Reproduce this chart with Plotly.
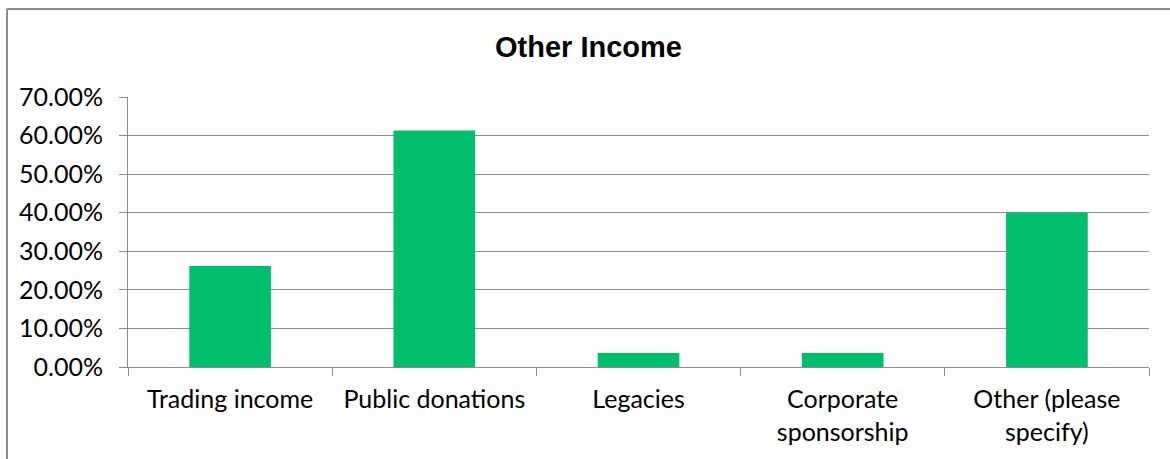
import plotly.graph_objects as go

# Income source categories and share of respondents
categories = ["Trading income", "Public donations", "Legacies",
              "Corporate<br>sponsorship", "Other (please<br>specify)"]
shares = [0.262, 0.613, 0.036, 0.036, 0.400]
y_ticks = [0.0, 0.1, 0.2, 0.3, 0.4, 0.5, 0.6, 0.7]

W, H = 1170, 459
L, R, T, B = 128, 21, 97, 92
pw, ph = W - L - R, H - T - B

GRID = "#8c8c8c"
BAR = "#00BE6E"
LABEL_FONT = dict(family="Lato, Noto Sans, sans-serif", size=25, color="#000000")

fig = go.Figure(
    go.Bar(x=categories, y=shares, marker=dict(color=BAR, line=dict(width=0)))
)

# chart frame: left and top edges of the outer border
def px_to_paper_x(px):
    return (px - L) / pw

def px_to_paper_y(py):
    return (H - B - py) / ph

frame = dict(color="#8f8f8f", width=2)
fig.add_shape(type="line", xref="paper", yref="paper",
              x0=px_to_paper_x(7), x1=px_to_paper_x(7),
              y0=px_to_paper_y(9), y1=px_to_paper_y(H + 5), line=frame)
fig.add_shape(type="line", xref="paper", yref="paper",
              x0=px_to_paper_x(7), x1=px_to_paper_x(W + 5),
              y0=px_to_paper_y(9), y1=px_to_paper_y(9), line=frame)

fig.update_layout(
    width=W, height=H,
    margin=dict(l=L, r=R, t=T, b=B, pad=0),
    paper_bgcolor="white", plot_bgcolor="white",
    bargap=0.6,
    showlegend=False,
    title=dict(text="<b>Other Income</b>", x=0.503, xanchor="center",
               y=1 - 47 / H, yanchor="middle", yref="container",
               font=dict(family="Liberation Sans, Arial, sans-serif", size=29, color="#000000")),
    xaxis=dict(
        type="category", tickson="boundaries",
        ticks="outside", ticklen=8, tickcolor=GRID, tickwidth=1,
        showline=True, linecolor=GRID, linewidth=1,
        showgrid=False, tickfont=LABEL_FONT, ticklabelstandoff=10,
        fixedrange=True,
    ),
    yaxis=dict(
        range=[0, 0.70], tickvals=y_ticks, tickformat=".2%",
        ticks="outside", ticklen=8, tickcolor=GRID, tickwidth=1,
        showline=True, linecolor=GRID, linewidth=1,
        showgrid=True, gridcolor=GRID, gridwidth=1,
        zeroline=False, tickfont=LABEL_FONT, ticklabelstandoff=11,
        fixedrange=True,
    ),
)

fig.write_html("out.html", config=dict(displayModeBar=False))
